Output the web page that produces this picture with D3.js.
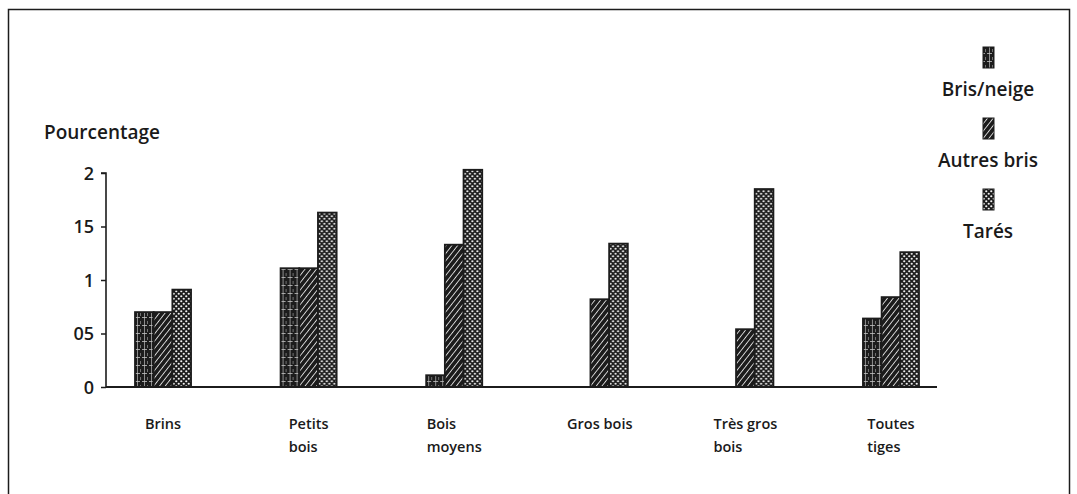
<!DOCTYPE html>
<html><head><meta charset="utf-8">
<script src="https://cdn.jsdelivr.net/npm/d3@7/dist/d3.min.js"></script>
<style>
html,body{margin:0;padding:0;background:#fff;}
svg text{font-family:"Open Sans",sans-serif;fill:#1a1a1a;}
</style></head>
<body><svg id="c" width="1077" height="494"></svg>
<script>
const categories = [["Brins"],["Petits","bois"],["Bois","moyens"],["Gros bois"],["Très gros","bois"],["Toutes","tiges"]];
const seriesNames = ["Bris/neige","Autres bris","Tarés"];
const brisNeige  = [0.70, 1.11, 0.11, 0.00, 0.00, 0.64];
const autresBris = [0.70, 1.11, 1.33, 0.82, 0.54, 0.84];
const tares      = [0.91, 1.63, 2.03, 1.34, 1.85, 1.26];
const yTicks = [0, 0.5, 1, 1.5, 2];
const yTickLabels = ["0","05","1","15","2"];
const yTitle = "Pourcentage";

const svg = d3.select("#c");
const ink = "#1c1c1c";
const defs = svg.append("defs");

// patterns
const p0 = defs.append("pattern").attr("id","pBN").attr("patternUnits","userSpaceOnUse").attr("width",7).attr("height",8);
p0.append("rect").attr("width",7).attr("height",8).attr("fill",ink);
p0.append("rect").attr("x",2).attr("y",0).attr("width",0.8).attr("height",8).attr("fill","#a8a8a8");
p0.append("rect").attr("x",0).attr("y",5).attr("width",5).attr("height",0.8).attr("fill","#c4c4c4");
p0.append("rect").attr("x",5).attr("y",1).attr("width",0.8).attr("height",3).attr("fill","#888");

const p1 = defs.append("pattern").attr("id","pAB").attr("patternUnits","userSpaceOnUse").attr("width",4.5).attr("height",4.5).attr("patternTransform","rotate(38)");
p1.append("rect").attr("width",4.5).attr("height",4.5).attr("fill",ink);
p1.append("rect").attr("x",0).attr("y",0).attr("width",0.9).attr("height",4.5).attr("fill","#dcdcdc");

const p2 = defs.append("pattern").attr("id","pT").attr("patternUnits","userSpaceOnUse").attr("width",5).attr("height",5);
p2.append("rect").attr("width",5).attr("height",5).attr("fill",ink);
p2.append("circle").attr("cx",1.25).attr("cy",1.25).attr("r",1.1).attr("fill","#f2f2f2");
p2.append("circle").attr("cx",3.75).attr("cy",3.75).attr("r",1.1).attr("fill","#f2f2f2");

const fills = ["url(#pBN)","url(#pAB)","url(#pT)"];
const seriesData = [brisNeige, autresBris, tares];

// frame
svg.append("rect").attr("x",8.5).attr("y",9.5).attr("width",1061).attr("height",500)
  .attr("fill","none").attr("stroke",ink).attr("stroke-width",1.5);

const y = d3.scaleLinear().domain([0,2]).range([387,173]);
const catKeys = categories.map(c=>c.join(" "));
const x = d3.scaleBand().domain(catKeys).range([135,919]).paddingInner(0.615).paddingOuter(0).align(0);
const xs = d3.scaleBand().domain(seriesNames).range([0,x.bandwidth()]);

// bars
const groups = svg.append("g").selectAll("g").data(catKeys).join("g")
  .attr("transform",d=>`translate(${x(d)},0)`);
groups.selectAll("rect").data((d,i)=>seriesNames.map((s,j)=>({s,j,v:seriesData[j][i]})))
  .join("rect")
  .attr("x",d=>xs(d.s)).attr("width",xs.bandwidth())
  .attr("y",d=>y(d.v)).attr("height",d=>y(0)-y(d.v))
  .attr("fill",d=>fills[d.j]).attr("stroke",ink).attr("stroke-width",d=>d.v>0?1.8:0);

// y axis
const yAxis = d3.axisLeft(y).tickValues(yTicks).tickFormat((d,i)=>yTickLabels[i]).tickSize(5).tickPadding(7);
const ga = svg.append("g").attr("transform","translate(106,0)").call(yAxis);
ga.select(".domain").attr("stroke",ink).attr("stroke-width",1.6).attr("d",`M-5,${y(2)}H0V${y(0)}`);
ga.selectAll(".tick line").attr("stroke",ink).attr("stroke-width",1.5);
ga.selectAll(".tick text").style("font-size","18px").style("font-weight","600").attr("fill",ink).attr("dy","0.35em");

// baseline
svg.append("line").attr("x1",106).attr("x2",937).attr("y1",y(0)).attr("y2",y(0))
  .attr("stroke",ink).attr("stroke-width",2.2);

// y title
svg.append("text").attr("x",44).attr("y",139).text(yTitle).style("font-size","19px").style("font-weight","600");

// category labels
const cl = svg.append("g").selectAll("text").data(categories).join("text")
  .style("font-size","14.5px").style("font-weight","600");
cl.each(function(lines,i){
  const t = d3.select(this);
  lines.forEach((ln,k)=>t.append("tspan").attr("dy",k===0?0:23).text(ln));
  const w = d3.max(t.selectAll("tspan").nodes(), n=>n.getComputedTextLength());
  const cx = x(catKeys[i]) + x.bandwidth()/2;
  const x0 = cx - w/2;
  t.attr("y",429);
  t.selectAll("tspan").attr("x",x0);
});

// legend
const lg = svg.append("g");
seriesNames.forEach((s,j)=>{
  const ly = 47 + j*71;
  lg.append("rect").attr("x",983).attr("y",ly).attr("width",11).attr("height",21)
    .attr("fill",fills[j]).attr("stroke",ink).attr("stroke-width",1);
  lg.append("text").attr("x",988).attr("y",ly+49).attr("text-anchor","middle")
    .text(s).style("font-size","19px").style("font-weight","600");
});
</script></body></html>
